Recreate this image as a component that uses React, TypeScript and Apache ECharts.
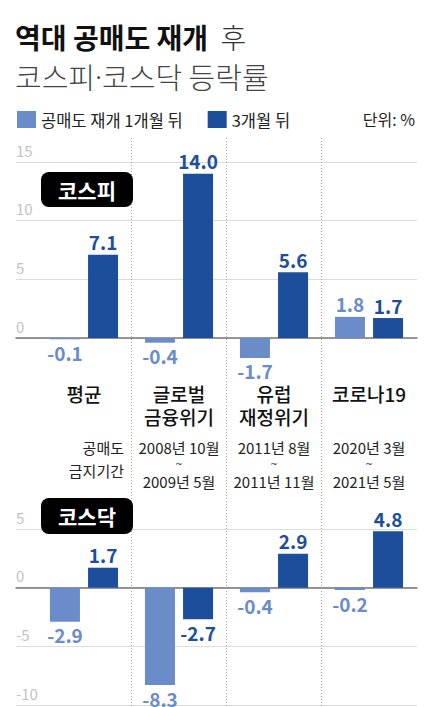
import { useEffect, useRef } from "react";
import * as echarts from "echarts";

const categories = ["평균", "글로벌\n금융위기", "유럽\n재정위기", "코로나19"];
const seriesNames = ["공매도 재개 1개월 뒤", "3개월 뒤"];
const kospi1m = [-0.1, -0.4, -1.7, 1.8];
const kospi3m = [7.1, 14.0, 5.6, 1.7];
const kosdaq1m = [-2.9, -8.3, -0.4, -0.2];
const kosdaq3m = [1.7, -2.7, 2.9, 4.8];
const periods = [
  ["공매도", "금지기간"],
  ["2008년 10월", "2009년 5월"],
  ["2011년 8월", "2011년 11월"],
  ["2020년 3월", "2021년 5월"],
];

const FONT = '"Noto Sans CJK KR", "Noto Sans", sans-serif';
const LIGHT = "#6a8cc8";
const DARK = "#1c4e9b";

// layout
const W = 440;
const H = 707;
const UNIT = 176 / 15; // px per 1%p
const LINE_LEFT = 16;
const LINE_RIGHT = 23;
const BAR_LEFT = 36.5;
const BAR_RIGHT = 23.5;
const BAND = (W - BAR_LEFT - BAR_RIGHT) / categories.length;

const top1 = 162;
const bottom1 = H - (162 + 20 * UNIT);
const top2 = 529;
const bottom2 = H - (529 + 15 * UNIT);

const barData = (vals: number[]) =>
  vals.map((v) => ({
    value: v,
    label: { position: v < 0 ? "bottom" : "top" },
  }));

export default function App() {
  const ref = useRef<HTMLDivElement | null>(null);

  useEffect(() => {
    document.body.style.margin = "0";
    if (!ref.current) return;
    const chart = echarts.init(ref.current, null, { renderer: "svg" });

    const lineY = (idx: number, min: number, max: number, hideMin: boolean) => ({
      gridIndex: idx,
      type: "value",
      min,
      max,
      interval: 5,
      axisLine: { show: false },
      axisTick: { show: false },
      axisLabel: {
        inside: true,
        margin: 0,
        verticalAlign: "bottom",
        lineHeight: 24,
        color: "#c2c2c2",
        fontSize: 15,
        fontFamily: FONT,
        formatter: (v: number) => (hideMin && v === min ? "" : String(v)),
      },
      splitLine: {
        lineStyle: {
          color: hideMin
            ? ["rgba(0,0,0,0)", "#dcdcdc", "#dcdcdc", "#dcdcdc", "#dcdcdc"]
            : "#dcdcdc",
          width: 1,
        },
      },
    });

    const barY = (idx: number, min: number, max: number) => ({
      gridIndex: idx,
      type: "value",
      min,
      max,
      show: false,
    });

    const zeroX = (idx: number) => ({
      gridIndex: idx,
      type: "value",
      min: 0,
      max: 1,
      axisLine: { show: true, onZero: true, lineStyle: { color: "#777", width: 1.5 } },
      axisTick: { show: false },
      axisLabel: { show: false },
      splitLine: { show: false },
    });

    const catX = (idx: number, showLabel: boolean) => ({
      gridIndex: idx,
      type: "category",
      data: categories,
      axisLine: { show: false },
      axisTick: { show: false },
      splitLine: { show: false },
      axisLabel: {
        show: showLabel,
        interval: 0,
        margin: -15,
        fontSize: 19,
        lineHeight: 23,
        fontWeight: 500,
        color: "#111",
        fontFamily: FONT,
      },
    });

    const bar = (name: string, xi: number, yi: number, vals: number[], color: string) => ({
      name,
      type: "bar",
      xAxisIndex: xi,
      yAxisIndex: yi,
      data: barData(vals),
      barWidth: 30,
      barGap: "27%",
      itemStyle: { color },
      label: {
        show: true,
        distance: 5,
        fontSize: 19,
        lineHeight: 16,
        fontWeight: "bold",
        fontFamily: FONT,
        color,
        formatter: (p: any) => Number(p.value).toFixed(1),
      },
    });

    const graphics: any[] = [];
    // dotted separators
    for (let i = 1; i < categories.length; i++) {
      const x = BAR_LEFT + BAND * i;
      graphics.push({
        type: "line",
        z: 50,
        shape: { x1: x, y1: 138, x2: x, y2: H },
        style: { stroke: "#a8a8a8", lineWidth: 1, lineDash: [1, 2] },
      });
    }
    // badges
    const badge = (label: string, y: number, h: number) => {
      graphics.push({
        type: "rect",
        z: 100,
        shape: { x: 41, y, width: 92, height: h, r: 8 },
        style: { fill: "#000" },
      });
      graphics.push({
        type: "text",
        z: 101,
        x: 87,
        y: y + h / 2,
        style: {
          text: label,
          fill: "#fff",
          fontSize: 21,
          fontWeight: "bold",
          fontFamily: FONT,
          align: "center",
          verticalAlign: "middle",
        },
      });
    };
    badge("코스피", 172, 35);
    badge("코스닥", 498, 36);

    // ban periods
    const pst = {
      fontSize: 15,
      fontFamily: FONT,
      fill: "#222",
      verticalAlign: "middle",
    };
    periods.forEach((p, i) => {
      const cx = BAR_LEFT + BAND * (i + 0.5);
      if (i === 0) {
        graphics.push({ type: "text", x: 124, y: 447, style: { ...pst, text: p[0], align: "right" } });
        graphics.push({ type: "text", x: 124, y: 470, style: { ...pst, text: p[1], align: "right" } });
      } else {
        graphics.push({ type: "text", x: cx, y: 447, style: { ...pst, text: p[0], align: "center" } });
        graphics.push({
          type: "text",
          x: cx,
          y: 464,
          style: {
            ...pst,
            text: "~",
            fontSize: 9,
            fontFamily: '"DejaVu Sans", sans-serif',
            align: "center",
          },
        });
        graphics.push({ type: "text", x: cx, y: 481, style: { ...pst, text: p[1], align: "center" } });
      }
    });

    graphics.push({
      type: "text",
      x: 415,
      y: 119,
      style: {
        text: "단위: %",
        fontSize: 16,
        fontFamily: FONT,
        fill: "#222",
        align: "right",
        verticalAlign: "middle",
      },
    });

    chart.setOption({
      animation: false,
      title: {
        left: 15,
        top: 17,
        padding: 0,
        text: "{b|역대 공매도 재개}{r|  후}\n{l|코스피}{d|·}{l|코스닥 등락률}",
        textStyle: {
          rich: {
            b: { fontSize: 28, fontWeight: "bold", color: "#111", fontFamily: FONT, lineHeight: 39 },
            r: { fontSize: 28, fontWeight: 300, color: "#333", fontFamily: FONT, lineHeight: 39 },
            l: { fontSize: 29, fontWeight: 300, color: "#444", fontFamily: FONT, lineHeight: 39 },
            d: { fontSize: 29, fontWeight: 300, color: "#444", fontFamily: '"Noto Sans", sans-serif', lineHeight: 39 },
          },
        },
      },
      legend: {
        left: 17,
        top: 111,
        padding: 0,
        itemWidth: 19,
        itemHeight: 17,
        itemGap: 25,
        icon: "rect",
        data: seriesNames,
        textStyle: { fontSize: 16.5, color: "#222", fontFamily: FONT },
      },
      grid: [
        { left: LINE_LEFT, right: LINE_RIGHT, top: top1, bottom: bottom1 },
        { left: BAR_LEFT, right: BAR_RIGHT, top: top1, bottom: bottom1 },
        { left: LINE_LEFT, right: LINE_RIGHT, top: top2, bottom: bottom2 },
        { left: BAR_LEFT, right: BAR_RIGHT, top: top2, bottom: bottom2 },
      ],
      xAxis: [zeroX(0), catX(1, true), zeroX(2), catX(3, false)],
      yAxis: [
        lineY(0, -5, 15, true),
        barY(1, -5, 15),
        lineY(2, -10, 5, false),
        barY(3, -10, 5),
      ],
      series: [
        bar(seriesNames[0], 1, 1, kospi1m, LIGHT),
        bar(seriesNames[1], 1, 1, kospi3m, DARK),
        bar(seriesNames[0], 3, 3, kosdaq1m, LIGHT),
        bar(seriesNames[1], 3, 3, kosdaq3m, DARK),
      ],
      graphic: graphics,
    });

    return () => chart.dispose();
  }, []);

  return <div ref={ref} style={{ width: W, height: H, background: "#fff" }} />;
}
